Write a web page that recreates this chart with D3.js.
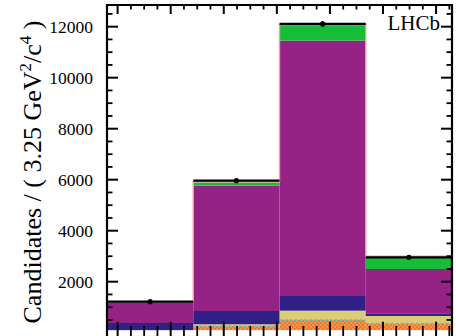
<!DOCTYPE html>
<html>
<head>
<meta charset="utf-8">
<script src="https://cdn.jsdelivr.net/npm/d3@7/dist/d3.min.js"></script>
<style>
  html, body { margin: 0; padding: 0; background: #fff; }
  svg { display: block; }
  text { font-family: "Liberation Serif", "DejaVu Serif", serif; fill: #000; }
</style>
</head>
<body>
<svg id="chart" width="456" height="336"></svg>
<script>
// q^2 binning (GeV^2/c^4)
const binEdges = [-0.4, 2.85, 6.1, 9.35, 12.6];

// Fitted yields per bin, stacked bottom to top
const orange = [60, 260, 498, 369];
const yellow = [40, 70, 365, 286];
const blue   = [280, 521, 576, 106];
const purple = [815, 4914, 10016, 1737];
const green  = [20, 133, 612, 462];
const pink   = [5, 20, 20, 40];

// Observed candidates per bin and their uncertainties
const dataCounts = [1215, 5960, 12106, 2957];
const dataErrors = [35, 77, 110, 54];

// Axis ticks
const yMajorTicks = [2000, 4000, 6000, 8000, 10000, 12000];
const yTickLabels = ["2000", "4000", "6000", "8000", "10000", "12000"];
const xMajorTicks = [0, 2, 4, 6, 8, 10, 12];

const keys = ["orange", "yellow", "blue", "purple", "green", "pink"];
const colors = {
  orange: "url(#dots)",
  yellow: "#dccc78",
  blue:   "#2f2185",
  purple: "#952285",
  green:  "#16be38",
  pink:   "#f2b0a6"
};

const rows = binEdges.slice(0, -1).map((lo, i) => ({
  lo, hi: binEdges[i + 1],
  orange: orange[i], yellow: yellow[i], blue: blue[i],
  purple: purple[i], green: green[i], pink: pink[i]
}));

const frame = { left: 107, right: 452, top: 5, bottom: 330.15 };
const yFloor = 100;

const x = d3.scaleLinear().domain([-0.4, 12.6]).range([frame.left, frame.right]);
const y = d3.scaleLinear().domain([yFloor, 12850]).range([frame.bottom, frame.top]).clamp(true);

const svg = d3.select("#chart");
const defs = svg.append("defs");
const pat = defs.append("pattern").attr("id", "dots")
  .attr("width", 4).attr("height", 4).attr("patternUnits", "userSpaceOnUse");
pat.append("rect").attr("width", 4).attr("height", 4).attr("fill", "#ef7a2c");
pat.append("circle").attr("cx", 1).attr("cy", 1).attr("r", 0.8).attr("fill", "#f7b57a");
pat.append("circle").attr("cx", 3).attr("cy", 3).attr("r", 0.8).attr("fill", "#f7b57a");

// Stacked components
const series = d3.stack().keys(keys)(rows);
const gStack = svg.append("g");
series.forEach(s => {
  gStack.selectAll(null).data(s).enter().append("rect")
    .attr("x", d => x(d.data.lo))
    .attr("width", d => x(d.data.hi) - x(d.data.lo))
    .attr("y", d => y(d[1]))
    .attr("height", d => Math.max(0, y(d[0]) - y(d[1])))
    .attr("fill", colors[s.key]);
});

// Dashed edge on top of the lowest component (only where it is in range)
svg.append("g").selectAll("line").data(series[0].filter(d => d[1] > yFloor)).enter()
  .append("line")
  .attr("x1", d => x(d.data.lo)).attr("x2", d => x(d.data.hi))
  .attr("y1", d => y(d[1])).attr("y2", d => y(d[1]))
  .attr("stroke", "#3ccfd0").attr("stroke-width", 1.3).attr("stroke-dasharray", "3,2");

// Total model outline
const totalTop = series[series.length - 1];
let totalPath = `M${x(binEdges[0])},${y.range()[0]}`;
totalTop.forEach(d => {
  totalPath += `L${x(d.data.lo)},${y(d[1])}L${x(d.data.hi)},${y(d[1])}`;
});
totalPath += `L${x(binEdges[binEdges.length - 1])},${y.range()[0]}`;
svg.append("path").attr("d", totalPath)
  .attr("fill", "none").attr("stroke", "#eea298").attr("stroke-width", 1.4);

// Frame and ticks
const gAxes = svg.append("g").attr("stroke", "#000");
const yMinor = d3.range(500, 12851, 500).filter(v => v >= yFloor && !yMajorTicks.includes(v));
const xMinor = d3.range(0.5, 12.6, 0.5).filter(v => !xMajorTicks.includes(v));

// left and right axes
[[frame.left, 1], [frame.right, -1]].forEach(([ax, dir]) => {
  gAxes.append("line").attr("x1", ax).attr("x2", ax)
    .attr("y1", frame.top - 1).attr("y2", 336).attr("stroke-width", 2.2);
  yMajorTicks.forEach(v => gAxes.append("line")
    .attr("x1", ax).attr("x2", ax + dir * 11).attr("y1", y(v)).attr("y2", y(v)).attr("stroke-width", 2));
  yMinor.forEach(v => gAxes.append("line")
    .attr("x1", ax).attr("x2", ax + dir * 5.5).attr("y1", y(v)).attr("y2", y(v)).attr("stroke-width", 1.8));
});
// top axis
gAxes.append("line").attr("x1", frame.left - 1).attr("x2", frame.right + 1)
  .attr("y1", frame.top).attr("y2", frame.top).attr("stroke-width", 2.2);
xMajorTicks.forEach(v => gAxes.append("line")
  .attr("x1", x(v)).attr("x2", x(v)).attr("y1", frame.top).attr("y2", frame.top + 9).attr("stroke-width", 2));
xMinor.forEach(v => gAxes.append("line")
  .attr("x1", x(v)).attr("x2", x(v)).attr("y1", frame.top).attr("y2", frame.top + 4.5).attr("stroke-width", 1.8));
// bottom ticks (shared edge with the pad below)
xMajorTicks.forEach(v => gAxes.append("line")
  .attr("x1", x(v)).attr("x2", x(v)).attr("y1", 337).attr("y2", 321.7).attr("stroke-width", 2));
xMinor.forEach(v => gAxes.append("line")
  .attr("x1", x(v)).attr("x2", x(v)).attr("y1", 337).attr("y2", 326).attr("stroke-width", 1.8));

// Tick labels
svg.append("g").selectAll("text").data(yMajorTicks).enter().append("text")
  .attr("x", 93).attr("y", d => y(d)).attr("dy", "0.35em")
  .attr("text-anchor", "end").attr("font-size", 17.5)
  .text((d, i) => yTickLabels[i]);

// Y title
const title = svg.append("text")
  .attr("transform", "translate(41,172) rotate(-90)")
  .attr("text-anchor", "middle").attr("font-size", 26);
title.append("tspan").text("Candidates / ( 3.25 GeV");
title.append("tspan").attr("font-size", 17).attr("dy", -10).text("2");
title.append("tspan").attr("dy", 10).text("/c");
title.append("tspan").attr("font-size", 17).attr("dy", -10).text("4");
title.append("tspan").attr("dy", 10).text(" )");

// Experiment label
svg.append("text").attr("x", 440).attr("y", 29.5).attr("text-anchor", "end")
  .attr("font-size", 21).text("LHCb");

// Data points with bin-width horizontal bars
const gData = svg.append("g");
rows.forEach((r, i) => {
  const cx = x((r.lo + r.hi) / 2);
  const cy = y(dataCounts[i]);
  gData.append("line").attr("x1", x(r.lo)).attr("x2", x(r.hi))
    .attr("y1", cy).attr("y2", cy).attr("stroke", "#000").attr("stroke-width", 2.2);
  gData.append("line").attr("x1", cx).attr("x2", cx)
    .attr("y1", y(dataCounts[i] + dataErrors[i])).attr("y2", y(dataCounts[i] - dataErrors[i]))
    .attr("stroke", "#000").attr("stroke-width", 2);
  gData.append("circle").attr("cx", cx).attr("cy", cy).attr("r", 2.6).attr("fill", "#000");
});
</script>
</body>
</html>
